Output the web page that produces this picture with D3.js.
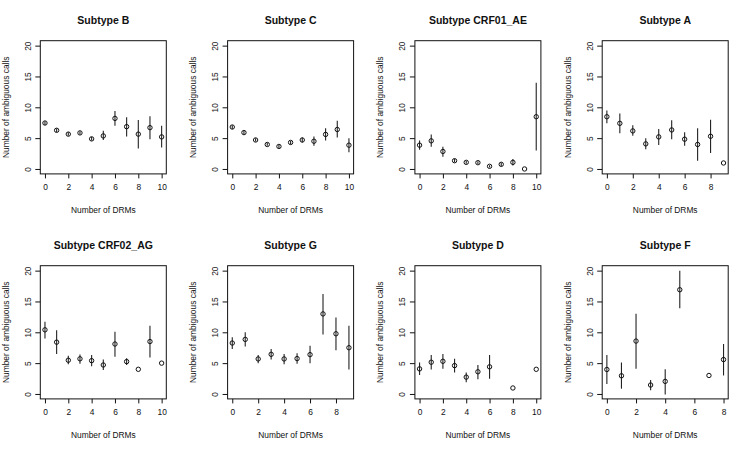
<!DOCTYPE html>
<html>
<head>
<meta charset="utf-8">
<script src="https://cdn.jsdelivr.net/npm/d3@7/dist/d3.min.js"></script>
<style>
  html, body { margin: 0; padding: 0; background: #fff; }
  svg { display: block; }
  text { font-family: "Liberation Sans", Arial, Helvetica, sans-serif; fill: #111; }
</style>
</head>
<body>
<svg id="chart" width="729" height="450"></svg>
<script>
// ---- Data ----
const subtypes = ["Subtype B", "Subtype C", "Subtype CRF01_AE", "Subtype A",
                  "Subtype CRF02_AG", "Subtype G", "Subtype D", "Subtype F"];

const drms = [
  [0,1,2,3,4,5,6,7,8,9,10],
  [0,1,2,3,4,5,6,7,8,9,10],
  [0,1,2,3,4,5,6,7,8,9,10],
  [0,1,2,3,4,5,6,7,8,9],
  [0,1,2,3,4,5,6,7,8,9,10],
  [0,1,2,3,4,5,6,7,8,9],
  [0,1,2,3,4,5,6,8,10],
  [0,1,2,3,4,5,7,8]
];

const means = [
  [7.45, 6.27, 5.65, 5.85, 4.88, 5.36, 8.2, 6.86, 5.65, 6.7, 5.2],
  [6.8, 5.9, 4.7, 3.97, 3.65, 4.3, 4.7, 4.5, 5.6, 6.4, 3.86],
  [3.86, 4.56, 2.84, 1.34, 1.07, 1.02, 0.43, 0.75, 1.07, 0, 8.47],
  [8.47, 7.4, 6.17, 4.07, 5.2, 6.33, 4.83, 3.97, 5.3, 0.97],
  [10.4, 8.4, 5.47, 5.7, 5.4, 4.7, 8.1, 5.25, 4.0, 8.5, 5.0],
  [8.26, 8.85, 5.68, 6.43, 5.68, 5.74, 6.38, 12.98, 9.76, 7.5],
  [4.07, 5.15, 5.3, 4.6, 2.73, 3.6, 4.4, 0.97, 4.0],
  [3.97, 2.95, 8.58, 1.45, 2.04, 16.9, 3.0, 5.58]
];

const lower = [
  [7.15, 6.0, 5.4, 5.6, 4.6, 4.7, 7.0, 5.25, 3.3, 4.8, 3.5],
  [6.5, 5.6, 4.45, 3.75, 3.4, 4.0, 4.3, 3.75, 4.6, 5.1, 2.7],
  [3.1, 3.6, 2.0, 1.1, 0.85, 0.8, 0.25, 0.5, 0.55, null, 3.0],
  [7.4, 5.8, 5.4, 3.2, 3.9, 4.8, 3.75, 1.35, 2.6, null],
  [9.0, 6.5, 4.8, 4.9, 4.5, 3.9, 6.05, 4.7, null, 5.9, null],
  [7.3, 7.7, 5.0, 5.6, 4.8, 4.9, 5.0, 9.65, 7.1, 3.97],
  [3.06, 3.97, 4.07, 3.5, 1.9, 2.4, 2.47, null, null],
  [1.6, 0.86, 4.07, 0.6, -0.1, 13.9, null, 3.0]
];

const upper = [
  [7.75, 6.55, 5.95, 6.1, 5.2, 6.2, 9.4, 8.4, 7.95, 8.55, 7.0],
  [7.1, 6.2, 5.0, 4.2, 3.9, 4.55, 5.1, 5.25, 6.6, 7.8, 5.0],
  [4.6, 5.6, 3.6, 1.6, 1.3, 1.25, 0.6, 1.0, 1.6, null, 14.0],
  [9.5, 9.0, 7.1, 5.0, 6.5, 7.9, 5.95, 6.6, 8.0, null],
  [11.7, 10.35, 6.2, 6.4, 6.3, 5.6, 10.1, 5.8, null, 11.05, null],
  [9.2, 10.0, 6.3, 7.3, 6.5, 6.6, 7.8, 16.2, 12.4, 11.05],
  [5.1, 6.3, 6.5, 5.7, 3.5, 4.7, 6.3, null, null],
  [6.3, 5.1, 13.0, 2.25, 4.0, 20.0, null, 8.1]
];

const yTicks = [0, 5, 10, 15, 20];
const xTickStep = 2;
const xLabel = "Number of DRMs";
const yLabel = "Number of ambiguous calls";

// ---- Layout ----
const svg = d3.select("#chart");
const colStep = 187.3, rowStep = 225;
const boxLeft0 = 40.3, boxTop0 = 40.7, boxW = 126, boxH = 133.2;

subtypes.forEach((name, i) => {
  const col = i % 4, row = Math.floor(i / 4);
  const L = boxLeft0 + col * colStep;
  const T = boxTop0 + row * rowStep;
  const g = svg.append("g").attr("transform", `translate(${L},${T})`);

  const xs = drms[i];
  const xmin = d3.min(xs), xmax = d3.max(xs);
  const xpad = (xmax - xmin) * 0.04;
  const x = d3.scaleLinear().domain([xmin - xpad, xmax + xpad]).range([0, boxW]);
  const y = d3.scaleLinear().domain([-0.8, 20.8]).range([boxH, 0]);

  const xTicks = d3.range(xmin, xmax + 0.001, xTickStep);

  // Box
  g.append("rect")
    .attr("x", 0).attr("y", 0).attr("width", boxW).attr("height", boxH)
    .attr("fill", "none").attr("stroke", "#111").attr("stroke-width", 1);

  // X axis
  const xa = g.append("g").attr("transform", `translate(0,${boxH})`)
    .call(d3.axisBottom(x).tickValues(xTicks).tickSize(4.5).tickPadding(6).tickFormat(d3.format("d")));
  xa.select(".domain").remove();
  xa.selectAll("line").attr("stroke", "#111");
  xa.selectAll("text").attr("font-size", "8.4px").attr("fill", "#111")
    .attr("font-family", '"Liberation Sans", Arial, Helvetica, sans-serif');

  // Y axis
  const ya = g.append("g")
    .call(d3.axisLeft(y).tickValues(yTicks).tickSize(5).tickFormat(d3.format("d")));
  ya.select(".domain").remove();
  ya.selectAll("line").attr("stroke", "#111");
  ya.selectAll("text")
    .attr("font-size", "8.4px").attr("fill", "#111")
    .attr("font-family", '"Liberation Sans", Arial, Helvetica, sans-serif')
    .attr("x", null).attr("dy", "0.35em")
    .attr("text-anchor", "middle")
    .attr("transform", "translate(-12.5,0) rotate(-90)");

  // Labels
  g.append("text")
    .attr("x", boxW / 2).attr("y", -16.5)
    .attr("text-anchor", "middle")
    .attr("font-size", "10.5px").attr("font-weight", "bold")
    .text(name);
  g.append("text")
    .attr("x", boxW / 2).attr("y", boxH + 39)
    .attr("text-anchor", "middle")
    .attr("font-size", "8.4px")
    .text(xLabel);
  g.append("text")
    .attr("transform", `translate(-34.5,${boxH / 2}) rotate(-90)`)
    .attr("dy", "0.35em")
    .attr("text-anchor", "middle")
    .attr("font-size", "8.4px")
    .text(yLabel);

  // Error bars
  const pts = xs.map((d, k) => ({ x: d, m: means[i][k], lo: lower[i][k], hi: upper[i][k] }));
  g.selectAll("line.err")
    .data(pts.filter(p => p.lo !== null && p.hi !== null))
    .enter().append("line")
    .attr("class", "err")
    .attr("x1", p => x(p.x)).attr("x2", p => x(p.x))
    .attr("y1", p => y(p.lo)).attr("y2", p => y(p.hi))
    .attr("stroke", "#222").attr("stroke-width", 1.1);

  // Points
  g.selectAll("circle.pt")
    .data(pts)
    .enter().append("circle")
    .attr("class", "pt")
    .attr("cx", p => x(p.x)).attr("cy", p => y(p.m))
    .attr("r", 2.2)
    .attr("fill", "none").attr("stroke", "#111").attr("stroke-width", 1);
});
</script>
</body>
</html>
